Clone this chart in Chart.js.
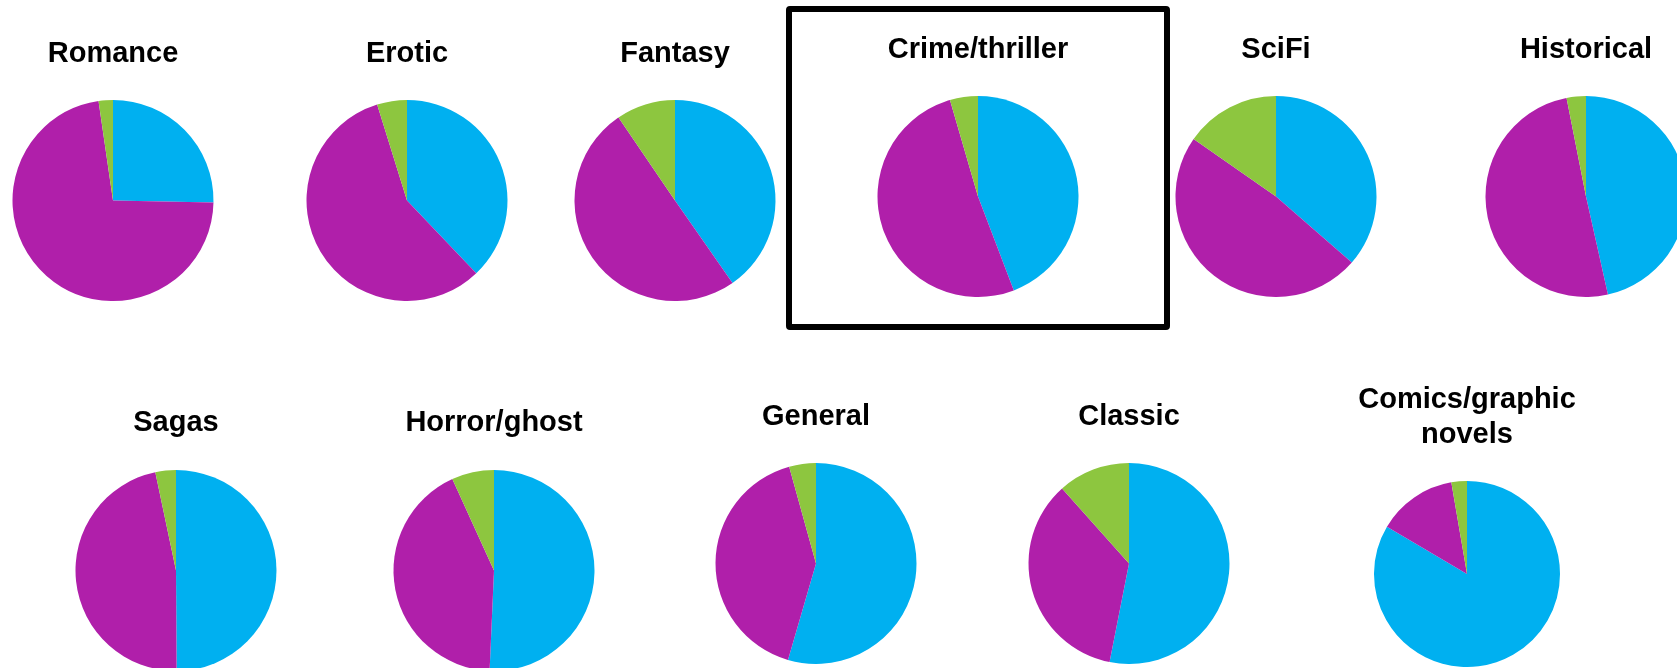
<!DOCTYPE html>
<html>
<head>
<meta charset="utf-8">
<script src="https://cdn.jsdelivr.net/npm/chart.js@4.4.1/dist/chart.umd.min.js"></script>
<style>
  html, body { margin: 0; padding: 0; background: #fff; overflow: hidden; }
  body { width: 1677px; height: 668px; position: relative; }
  canvas { position: absolute; }
  .highlight {
    position: absolute;
    left: 786px; top: 6px; width: 384px; height: 324px;
    box-sizing: border-box;
    border: 6px solid #000;
    border-radius: 4px;
  }
</style>
</head>
<body>
<div class="highlight"></div>
<script>
// genre names (one pie each)
const genres = [
  'Romance', 'Erotic', 'Fantasy', 'Crime/thriller', 'SciFi', 'Historical',
  'Sagas', 'Horror/ghost', 'General', 'Classic', ['Comics/graphic', 'novels']
]

// shares in %, clockwise from 12 o'clock
const seriesBlue   = [25.3, 37.9, 40.3, 44.2, 36.4, 46.5, 49.9, 50.7, 54.5, 53.1, 83.5]
const seriesPurple = [72.4, 57.3, 50.2, 51.3, 48.3, 50.4, 46.8, 42.5, 41.2, 35.3, 13.8]
const seriesGreen  = [ 2.3,  4.8,  9.5,  4.5, 15.3,  3.1,  3.3,  6.8,  4.3, 11.6,  2.7]

const colors = ['#00b0f0', '#b01faa', '#8dc63f']

// where each small pie sits on the page
const layout = [
  { cx: 113,  pieTop: 100, r: 100.5, titleMid: 54 },
  { cx: 407,  pieTop: 100, r: 100.5, titleMid: 54 },
  { cx: 675,  pieTop: 100, r: 100.5, titleMid: 54 },
  { cx: 978,  pieTop: 96,  r: 100.5, titleMid: 50 },
  { cx: 1276, pieTop: 96,  r: 100.5, titleMid: 50 },
  { cx: 1586, pieTop: 96,  r: 100.5, titleMid: 50 },
  { cx: 176,  pieTop: 470, r: 100.5, titleMid: 423 },
  { cx: 494,  pieTop: 470, r: 100.5, titleMid: 423 },
  { cx: 816,  pieTop: 463, r: 100.5, titleMid: 417 },
  { cx: 1129, pieTop: 463, r: 100.5, titleMid: 417 },
  { cx: 1467, pieTop: 481, r: 93,    titleMid: 400 }
]

const FONT = 29
const LINE = FONT * 1.2
const CANVAS_W = 300

genres.forEach((title, i) => {
  const pos = layout[i]
  const lines = Array.isArray(title) ? title.length : 1
  const top = Math.round(pos.titleMid - LINE / 2)
  const titleBottom = top + LINE * lines
  const padBottom = pos.pieTop - titleBottom
  const height = Math.round(pos.pieTop - top + pos.r * 2)

  const canvas = document.createElement('canvas')
  canvas.width = CANVAS_W
  canvas.height = height
  canvas.style.left = Math.round(pos.cx - CANVAS_W / 2) + 'px'
  canvas.style.top = top + 'px'
  document.body.appendChild(canvas)

  new Chart(canvas, {
    type: 'pie',
    data: {
      labels: ['A', 'B', 'C'],
      datasets: [{
        data: [seriesBlue[i], seriesPurple[i], seriesGreen[i]],
        backgroundColor: colors,
        borderWidth: 0
      }]
    },
    options: {
      responsive: false,
      animation: false,
      layout: { padding: 0 },
      plugins: {
        legend: { display: false },
        tooltip: { enabled: false },
        title: {
          display: true,
          text: title,
          color: '#000',
          font: { family: '"Liberation Sans", Arial, sans-serif', size: FONT, weight: 'bold' },
          padding: { top: 0, bottom: padBottom }
        }
      }
    }
  })
})
</script>
</body>
</html>
